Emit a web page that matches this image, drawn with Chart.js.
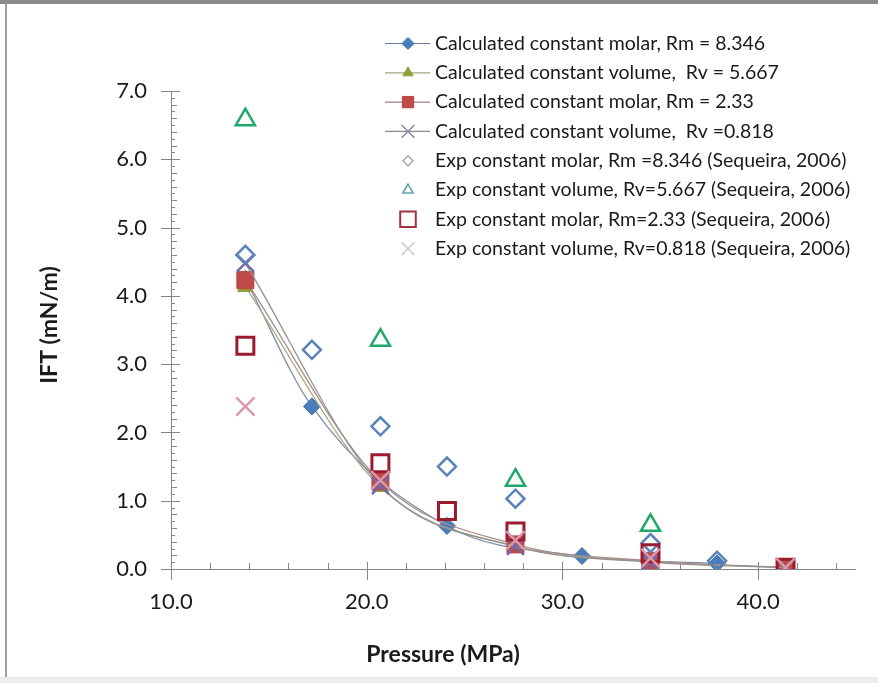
<!DOCTYPE html>
<html>
<head>
<meta charset="utf-8">
<script src="https://cdn.jsdelivr.net/npm/chart.js@4/dist/chart.umd.min.js"></script>
<style>
  html, body { margin: 0; padding: 0; background: #ffffff; }
  #wrap { width: 878px; height: 683px; position: relative; }
</style>
</head>
<body>
<div id="wrap"><canvas id="ift" width="878" height="683"></canvas></div>
<script>
// Pressure (MPa) and IFT (mN/m)
const calcRm8346P = [13.8, 17.2, 24.1, 31.0, 37.9];
const calcRm8346 = [4.25, 2.38, 0.63, 0.19, 0.08];
const calcRv5667P = [13.8, 20.7, 27.6, 34.5, 41.4];
const calcRv5667 = [4.13, 1.20, 0.33, 0.11, 0.02];
const calcRm233P = [13.8, 20.7, 27.6, 34.5, 41.4];
const calcRm233 = [4.23, 1.28, 0.36, 0.12, 0.02];
const calcRv0818P = [13.8, 20.7, 27.6, 34.5, 41.4];
const calcRv0818 = [4.48, 1.22, 0.33, 0.10, 0.02];

const expRm8346P = [13.8, 17.2, 20.7, 24.1, 27.6, 34.5, 37.9];
const expRm8346 = [4.60, 3.21, 2.09, 1.50, 1.03, 0.38, 0.12];
const expRv5667P = [13.8, 20.7, 27.6, 34.5];
const expRv5667 = [6.58, 3.35, 1.30, 0.64];
const expRm233P = [13.8, 20.7, 24.1, 27.6, 34.5, 41.4];
const expRm233 = [3.27, 1.55, 0.85, 0.55, 0.23, 0.02];
const expRv0818P = [13.8, 20.7, 27.6, 34.5, 41.4];
const expRv0818 = [2.38, 1.30, 0.42, 0.16, 0.02];

const seriesLabels = [
  'Calculated constant molar, Rm = 8.346',
  'Calculated constant volume,  Rv = 5.667',
  'Calculated constant molar, Rm = 2.33',
  'Calculated constant volume,  Rv =0.818',
  'Exp constant molar, Rm =8.346 (Sequeira, 2006)',
  'Exp constant volume, Rv=5.667 (Sequeira, 2006)',
  'Exp constant molar, Rm=2.33 (Sequeira, 2006)',
  'Exp constant volume, Rv=0.818 (Sequeira, 2006)'
];

const xTicks = [10, 20, 30, 40];
const yTicks = [0, 1, 2, 3, 4, 5, 6, 7];
const xTitle = 'Pressure (MPa)';
const yTitle = 'IFT (mN/m)';

function pts(xs, ys) {
  return xs.map((x, i) => ({ x: x, y: ys[i] }));
}

// legend look (line colour, marker) per series
const legendStyles = [
  { line: '#6f7f9c', style: 'rectRot', r: 6, fill: '#4a7ebb', stroke: '#3f6fa8', bw: 1 },
  { line: '#a3a67a', style: 'triangle', r: 6, fill: '#8ea23a', stroke: '#8ea23a', bw: 1 },
  { line: '#a87f7f', style: 'rect', r: 8, fill: '#be4b48', stroke: '#b8433f', bw: 1 },
  { line: '#8c8c8c', style: 'crossRot', r: 9, fill: 'transparent', stroke: '#8c84a2', bw: 1.5 },
  { line: null, style: 'rectRot', r: 5, fill: 'transparent', stroke: '#a8a8a8', bw: 1.5 },
  { line: null, style: 'triangle', r: 6, fill: 'transparent', stroke: '#5ca4a4', bw: 1.5 },
  { line: null, style: 'rect', r: 11, fill: 'transparent', stroke: '#a03244', bw: 2 },
  { line: null, style: 'crossRot', r: 9, fill: 'transparent', stroke: '#c8c8c8', bw: 1.5 }
];

const frameAndAxes = {
  id: 'frameAndAxes',
  beforeDraw(chart) {
    const ctx = chart.ctx;
    ctx.save();
    ctx.fillStyle = '#ffffff';
    ctx.fillRect(0, 0, chart.width, chart.height);
    ctx.fillStyle = '#ececec';
    ctx.fillRect(0, 677, chart.width, chart.height - 677);
    ctx.fillStyle = '#8a8a8a';
    ctx.fillRect(0, 0, chart.width, 4);
    ctx.fillStyle = '#a0a0a0';
    ctx.fillRect(5, 4, 2, 673);
    ctx.restore();
  },
  beforeDatasetsDraw(chart) {
    const ctx = chart.ctx;
    const xs = chart.scales.x;
    const ys = chart.scales.y;
    const a = chart.chartArea;
    ctx.save();
    ctx.strokeStyle = '#868686';
    ctx.lineWidth = 1;
    ctx.beginPath();
    // axis lines
    ctx.moveTo(a.left + 0.5, a.top);
    ctx.lineTo(a.left + 0.5, a.bottom);
    ctx.moveTo(a.left, a.bottom + 0.5);
    ctx.lineTo(a.right, a.bottom + 0.5);
    // x minor ticks (every 2)
    for (let v = 12; v <= 44; v += 2) {
      if (v % 10 === 0) continue;
      const px = Math.round(xs.getPixelForValue(v)) + 0.5;
      ctx.moveTo(px, a.bottom);
      ctx.lineTo(px, a.bottom - 6);
    }
    // x major ticks
    xTicks.forEach(v => {
      const px = Math.round(xs.getPixelForValue(v)) + 0.5;
      ctx.moveTo(px, a.bottom - 7);
      ctx.lineTo(px, a.bottom + 11);
    });
    // y minor ticks (every 0.1)
    for (let i = 1; i < 70; i++) {
      if (i % 10 === 0) continue;
      const py = Math.round(ys.getPixelForValue(i / 10)) + 0.5;
      ctx.moveTo(a.left, py);
      ctx.lineTo(a.left + (i % 2 === 0 ? 6 : 4), py);
    }
    // y major ticks
    yTicks.forEach(v => {
      const py = Math.round(ys.getPixelForValue(v)) + 0.5;
      ctx.moveTo(a.left - 10, py);
      ctx.lineTo(a.left + 9, py);
    });
    ctx.stroke();
    ctx.restore();
  },
  afterDraw(chart) {
    const ctx = chart.ctx;
    ctx.save();
    // axis titles
    ctx.fillStyle = '#1a1a1a';
    ctx.font = 'bold 23px Lato';
    ctx.textAlign = 'center';
    ctx.textBaseline = 'middle';
    ctx.fillText(xTitle, 443, 655);
    ctx.save();
    ctx.translate(50, 325);
    ctx.rotate(-Math.PI / 2);
    ctx.fillText(yTitle, 0, 0);
    ctx.restore();

    // legend
    ctx.font = '19.5px Lato';
    ctx.textAlign = 'left';
    seriesLabels.forEach((label, i) => {
      const y = 43.5 + i * 29.3;
      const st = legendStyles[i];
      if (st.line) {
        ctx.strokeStyle = st.line;
        ctx.lineWidth = 1.2;
        ctx.beginPath();
        ctx.moveTo(385, y);
        ctx.lineTo(430, y);
        ctx.stroke();
      }
      ctx.fillStyle = st.fill;
      ctx.strokeStyle = st.stroke;
      ctx.lineWidth = st.bw;
      Chart.helpers.drawPoint(ctx, { pointStyle: st.style, rotation: 0, radius: st.r, borderWidth: st.bw }, 408, y);
      ctx.fillStyle = '#1a1a1a';
      ctx.fillText(label, 435, y);
    });
    ctx.restore();
  }
};

const lineOpts = {
  showLine: true,
  borderWidth: 1.3,
  tension: 0.4,
  cubicInterpolationMode: 'monotone'
};

new Chart(document.getElementById('ift'), {
  type: 'scatter',
  data: {
    datasets: [
      Object.assign({
        label: seriesLabels[0],
        data: pts(calcRm8346P, calcRm8346),
        borderColor: '#7d8ca8',
        pointStyle: 'rectRot',
        pointRadius: 8.5,
        pointBackgroundColor: '#4a7ebb',
        pointBorderColor: '#3f72b0',
        pointBorderWidth: 1,
        order: 7
      }, lineOpts),
      Object.assign({
        label: seriesLabels[1],
        data: pts(calcRv5667P, calcRv5667),
        borderColor: '#a9ac82',
        pointStyle: 'triangle',
        pointRadius: 9,
        pointBackgroundColor: '#8ea23a',
        pointBorderColor: '#8ea23a',
        pointBorderWidth: 1,
        order: 6
      }, lineOpts),
      Object.assign({
        label: seriesLabels[2],
        data: pts(calcRm233P, calcRm233),
        borderColor: '#ad8a8a',
        pointStyle: 'rect',
        pointRadius: 12,
        pointBackgroundColor: '#be4b48',
        pointBorderColor: '#b8433f',
        pointBorderWidth: 1,
        order: 5
      }, lineOpts),
      Object.assign({
        label: seriesLabels[3],
        data: pts(calcRv0818P, calcRv0818),
        borderColor: '#929292',
        pointStyle: 'crossRot',
        pointRadius: 12,
        pointBackgroundColor: 'transparent',
        pointBorderColor: '#7468a8',
        pointBorderWidth: 2.5,
        order: 4
      }, lineOpts),
      {
        label: seriesLabels[4],
        data: pts(expRm8346P, expRm8346),
        showLine: false,
        pointStyle: 'rectRot',
        pointRadius: 9,
        pointBackgroundColor: 'transparent',
        pointBorderColor: '#5a82bb',
        pointBorderWidth: 2.5,
        order: 3
      },
      {
        label: seriesLabels[5],
        data: pts(expRv5667P, expRv5667),
        showLine: false,
        pointStyle: 'triangle',
        pointRadius: 11,
        pointBackgroundColor: 'transparent',
        pointBorderColor: '#1ea86a',
        pointBorderWidth: 2.5,
        order: 2
      },
      {
        label: seriesLabels[6],
        data: pts(expRm233P, expRm233),
        showLine: false,
        pointStyle: 'rect',
        pointRadius: 12,
        pointBackgroundColor: 'transparent',
        pointBorderColor: '#9c1a2e',
        pointBorderWidth: 3,
        order: 1
      },
      {
        label: seriesLabels[7],
        data: pts(expRv0818P, expRv0818),
        showLine: false,
        pointStyle: 'crossRot',
        pointRadius: 13,
        pointBackgroundColor: 'transparent',
        pointBorderColor: '#d79aaa',
        pointBorderWidth: 2.5,
        order: 0
      }
    ]
  },
  options: {
    responsive: false,
    animation: false,
    devicePixelRatio: 1,
    layout: { padding: { top: 91, right: 22, left: 0, bottom: 0 } },
    scales: {
      x: {
        type: 'linear',
        min: 10,
        max: 45,
        afterFit: (scale) => { scale.height = 114; },
        afterBuildTicks: (scale) => { scale.ticks = xTicks.map(v => ({ value: v })); },
        grid: { display: false, drawTicks: false },
        border: { display: false },
        ticks: {
          padding: 20,
          color: '#1a1a1a',
          font: { family: 'Lato', size: 22 },
          callback: (v) => Number(v).toFixed(1)
        }
      },
      y: {
        type: 'linear',
        min: 0,
        max: 7,
        afterFit: (scale) => { scale.width = 171; },
        afterBuildTicks: (scale) => { scale.ticks = yTicks.map(v => ({ value: v })); },
        grid: { display: false, drawTicks: false },
        border: { display: false },
        ticks: {
          padding: 24,
          color: '#1a1a1a',
          font: { family: 'Lato', size: 22 },
          callback: (v) => Number(v).toFixed(1)
        }
      }
    },
    plugins: {
      legend: { display: false },
      tooltip: { enabled: false },
      title: { display: false }
    }
  },
  plugins: [frameAndAxes]
});
</script>
</body>
</html>
